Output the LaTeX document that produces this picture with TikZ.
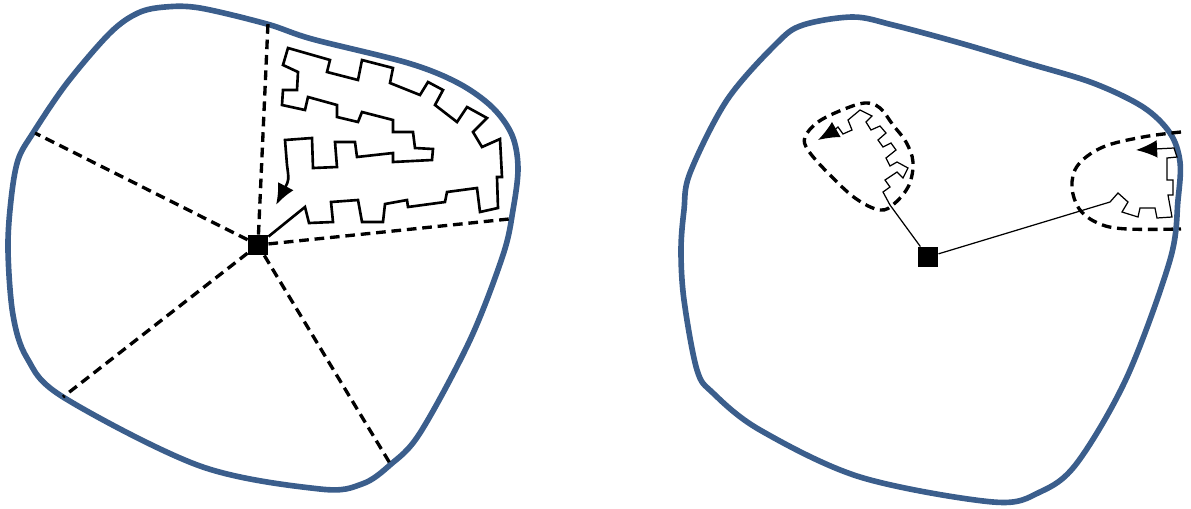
\documentclass[tikz,border=0pt]{standalone}
\usetikzlibrary{arrows.meta}
\definecolor{rimblue}{RGB}{59,94,140}
\tikzset{
  rim/.style={rimblue, line width=3.2pt},
  ray/.style={dash pattern=on 5.5pt off 3.3pt, line width=1.9pt},
  walk/.style={line width=1.5pt},
  thinwalk/.style={line width=0.7pt},
  hub/.style={fill=black, inner sep=0pt, minimum size=11.5pt},
  walkend/.style={-{Latex[length=12pt,width=10pt]}}
}
\begin{document}
\begin{tikzpicture}[x=0.02cm,y=-0.02cm]
  \useasboundingbox (0,0) rectangle (1191,508);
  % Domini esquerre
  \draw[rim] plot[smooth cycle, tension=0.55] coordinates {
    (165,7) (200,8) (267,24) (312,39) (408,63) (458,83) (492,107)
    (512,135) (518,168) (513,210) (503,255) (470,340) (420,433)
    (390,465) (362,484) (320,489) (200,466) (63,397) (27,358)
    (13,315) (8,250) (11,200) (18,160) (33,133) (67,83) (110,33) (138,13)};
  \node[hub] (hubL) at (258,245) {};
  % Radis puntejats
  \coordinate (rN) at (268,23);
  \coordinate (rW) at (35,133);
  \coordinate (rE) at (509,219);
  \coordinate (rSW) at (63,397);
  \coordinate (rSE) at (391,465);
  \foreach \r in {rN,rW,rE,rSW,rSE}
    \draw[ray] (hubL) -- (\r);
  % Cami
  \draw[walk,walkend] (hubL) -- (305,207) -- (309,223) -- (333,222) -- (331,202)
    -- (358,200) -- (362,222) -- (383,222) -- (385,204) -- (407,200)
    -- (408,207) -- (445,202) -- (447,192) -- (477,188) -- (480,212)
    -- (498,208) -- (497,177) -- (502,177) -- (500,139) -- (482,147)
    -- (473,132) -- (487,118) -- (467,107) -- (457,122) -- (435,105)
    -- (443,90) -- (428,82) -- (420,95) -- (390,83) -- (393,68)
    -- (362,60) -- (358,80) -- (327,72) -- (330,60) -- (288,48)
    -- (283,65) -- (298,72) -- (297,90) -- (283,90) -- (282,105)
    -- (305,110) -- (308,97) -- (337,105) -- (337,117) -- (358,122)
    -- (362,112) -- (393,120) -- (393,132) -- (413,132) -- (415,148)
    -- (433,149) -- (432,160) -- (393,162) -- (393,153) -- (357,157)
    -- (355,142) -- (335,142) -- (337,167) -- (313,168) -- (312,138)
    -- (285,140) -- (287,165) .. controls (289,180) .. (276,205);

  % Domini dret
  \draw[rim] plot[smooth cycle, tension=0.55] coordinates {
    (803,25) (853,17) (893,25) (960,43) (1027,63) (1093,83) (1143,107)
    (1170,133) (1180,162) (1178,200) (1170,260) (1127,377) (1077,463)
    (1040,492) (993,502) (860,477) (760,430) (713,393) (697,370)
    (684,300) (681,250) (684,210) (690,173) (727,100) (777,43)};
  \node[hub] (hubR) at (928,257) {};
  % Regions puntejades
  \draw[ray] plot[smooth cycle, tension=0.6] coordinates {
    (805,137) (818,122) (842,110) (865,103) (880,108) (893,125)
    (906,142) (913,162) (909,185) (895,203) (880,210) (855,198)
    (827,172) (808,150)};
  \draw[ray] plot[smooth, tension=0.6] coordinates {
    (1181,132) (1143,137) (1103,147) (1078,165) (1072,187) (1080,210)
    (1100,224) (1127,229) (1181,229)};
  % Camins curts
  \draw[thinwalk,walkend] (hubR) -- (890,205) -- (883,192) -- (890,187)
    -- (885,180) -- (897,172) -- (903,178) -- (908,168) -- (897,162)
    -- (890,166) -- (886,158) -- (896,150) -- (891,143) -- (883,147)
    -- (878,140) -- (886,133) -- (880,126) -- (871,130) -- (866,122)
    -- (872,116) -- (860,110) -- (848,120) -- (852,130) -- (843,134)
    -- (838,127) -- (832,132) -- (818,140);
  \draw[thinwalk,walkend] (hubR) -- (1110,202) -- (1118,193) -- (1128,202)
    -- (1122,212) -- (1138,217) -- (1140,208) -- (1155,208) -- (1157,218)
    -- (1172,217) -- (1168,195) -- (1173,195) -- (1173,180) -- (1167,180)
    -- (1167,158) -- (1177,157) -- (1174,148) -- (1136,150);
\end{tikzpicture}
\end{document}
